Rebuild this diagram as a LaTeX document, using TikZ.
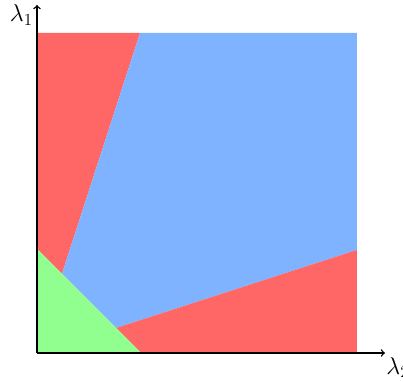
\documentclass[tikz,border=0pt]{standalone}
\definecolor{regred}{RGB}{255,102,102}
\definecolor{regblue}{RGB}{128,179,255}
\definecolor{reggreen}{RGB}{144,255,144}
\begin{document}
\begin{tikzpicture}[scale=8]
            \useasboundingbox (-0.1156,-0.0906) rectangle (1.1438,1.1031);
            \coordinate (p) at (0.078,0.247);
            \coordinate (q) at (0.247,0.078);
            \fill[regred] (0,0.325) -- (0,1) -- (0.322,1) -- (p) -- cycle;
            \fill[regblue] (p) -- (0.322,1) -- (1,1) -- (1,0.322) -- (q) -- cycle;
            \fill[regred] (q) -- (1,0.322) -- (1,0) -- (0.325,0) -- cycle;
            \fill[reggreen] (0,0) -- (0,0.325) -- (0.325,0) -- cycle;
            \draw[->,line width=1pt] (0,0) -- (1.0875,0) node[below right,inner sep=0.5pt,yshift=-2pt] (l2) {\LARGE$\lambda_2$};
            \draw[->,line width=1pt] (0,0) -- (0,1.0875) node[below left,inner sep=1.5pt,xshift=-1pt,yshift=2pt] (l1) {\LARGE$\lambda_1$};
        \end{tikzpicture}
\end{document}
